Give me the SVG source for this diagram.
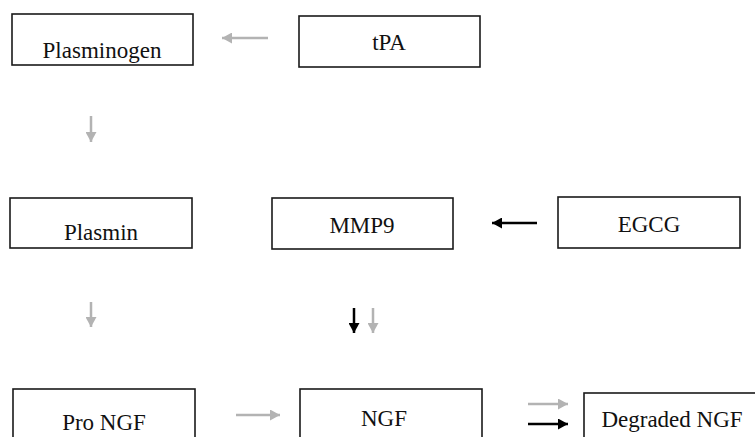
<svg xmlns="http://www.w3.org/2000/svg" width="755" height="437" viewBox="0 0 755 437">
<style>
.box{fill:#fff;stroke:#1a1a1a;stroke-width:1.6}
.lbl{font-family:"Liberation Serif","Times New Roman",serif;font-size:23px;fill:#111;text-anchor:middle}
.g{stroke:#b3b3b3;stroke-width:2.5;fill:none}
.k{stroke:#000;stroke-width:2.5;fill:none}
</style>
<defs>
<marker id="hg" markerUnits="userSpaceOnUse" markerWidth="11" markerHeight="11" refX="10" refY="5.5" orient="auto"><path d="M0,0 L10,5.5 L0,11 z" fill="#b3b3b3"/></marker>
<marker id="hk" markerUnits="userSpaceOnUse" markerWidth="11" markerHeight="11" refX="10" refY="5.5" orient="auto"><path d="M0,0 L10,5.5 L0,11 z" fill="#000"/></marker>
</defs>
<rect width="755" height="437" fill="#fff"/>
<g id="plasminogen"><rect class="box" x="12" y="14" width="181" height="51"/><text class="lbl" x="102" y="58">Plasminogen</text></g>
<g id="tpa"><rect class="box" x="299" y="16" width="181" height="51"/><text class="lbl" x="389" y="50">tPA</text></g>
<g id="plasmin"><rect class="box" x="10" y="198" width="182" height="50"/><text class="lbl" x="101" y="240">Plasmin</text></g>
<g id="mmp9"><rect class="box" x="272" y="198" width="181" height="51"/><text class="lbl" x="362" y="233">MMP9</text></g>
<g id="egcg"><rect class="box" x="558" y="197" width="182" height="51"/><text class="lbl" x="649" y="232">EGCG</text></g>
<g id="prongf"><rect class="box" x="13" y="389" width="182" height="60"/><text class="lbl" x="104" y="430">Pro NGF</text></g>
<g id="ngf"><rect class="box" x="300" y="389" width="182" height="60"/><text class="lbl" x="384" y="426">NGF</text></g>
<g id="degraded"><rect class="box" x="584" y="393" width="180" height="60"/><text class="lbl" x="672" y="427">Degraded NGF</text></g>
<g id="connectors">
<line class="g" x1="268" y1="38" x2="222" y2="38" marker-end="url(#hg)"/>
<line class="g" x1="91" y1="116" x2="91" y2="142" marker-end="url(#hg)"/>
<line class="k" x1="537" y1="223" x2="492" y2="223" marker-end="url(#hk)"/>
<line class="g" x1="91" y1="302" x2="91" y2="327" marker-end="url(#hg)"/>
<line class="k" x1="354" y1="308" x2="354" y2="333" marker-end="url(#hk)"/>
<line class="g" x1="373" y1="308" x2="373" y2="333" marker-end="url(#hg)"/>
<line class="g" x1="236" y1="415" x2="280" y2="415" marker-end="url(#hg)"/>
<line class="g" x1="528" y1="404" x2="568" y2="404" marker-end="url(#hg)"/>
<line class="k" x1="528" y1="424" x2="568" y2="424" marker-end="url(#hk)"/>
</g>
</svg>
